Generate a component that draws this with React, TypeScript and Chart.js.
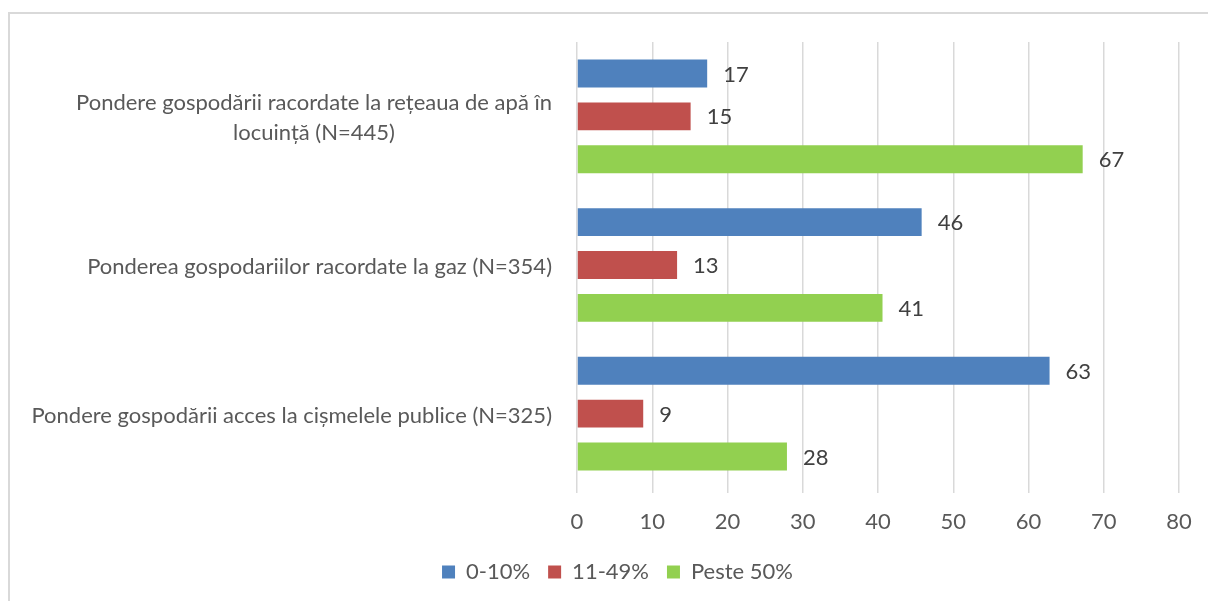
import React, { useEffect, useRef } from "react";
import { Chart, registerables } from "chart.js";

Chart.register(...registerables);

const categoryLines: string[][] = [
  ["Pondere gospodării racordate la rețeaua de apă în", "locuință (N=445)"],
  ["Ponderea gospodariilor racordate la gaz (N=354)"],
  ["Pondere gospodării acces la cișmelele publice (N=325)"],
];
const categories = ["apa", "gaz", "cismele"];
const seriesNames = ["0-10%", "11-49%", "Peste 50%"];
const seriesColors = ["#4f81bd", "#c0504d", "#92d050"];
const low = [17.3, 45.8, 62.8];
const mid = [15.1, 13.3, 8.8];
const high = [67.2, 40.6, 27.9];
const xTicks = [0, 10, 20, 30, 40, 50, 60, 70, 80];

const FONT = "Lato";
const FS = 22;

const labelsPlugin = {
  id: "customLabels",
  afterDatasetsDraw(chart: any) {
    const ctx = chart.ctx;
    ctx.save();
    ctx.font = `${FS}px ${FONT}`;
    ctx.fillStyle = "#404040";
    ctx.textBaseline = "middle";
    ctx.textAlign = "left";
    chart.data.datasets.forEach((ds: any, di: number) => {
      const meta = chart.getDatasetMeta(di);
      meta.data.forEach((bar: any, i: number) => {
        ctx.fillText(String(Math.round(ds.data[i])), bar.x + 16, bar.y + 1);
      });
    });
    const yScale = chart.scales.y;
    const right = chart.chartArea.left - 25;
    ctx.fillStyle = "#595959";
    categoryLines.forEach((lines, i) => {
      const cy = yScale.getPixelForValue(i) + 2;
      const lh = 30;
      const widths = lines.map((l) => ctx.measureText(l).width);
      const maxW = Math.max(...widths);
      const cx = right - maxW / 2;
      ctx.textAlign = "center";
      lines.forEach((l, k) => {
        const y = cy + (k - (lines.length - 1) / 2) * lh;
        ctx.fillText(l, cx, y);
      });
    });
    ctx.restore();
  },
};

export default function App() {
  const ref = useRef<HTMLCanvasElement | null>(null);
  useEffect(() => {
    if (!ref.current) return;
    const chart = new Chart(ref.current, {
      type: "bar",
      data: {
        labels: categories,
        datasets: [low, mid, high].map((d, i) => ({
          label: seriesNames[i],
          data: d,
          backgroundColor: seriesColors[i],
          borderWidth: 0,
          categoryPercentage: 0.865,
          barPercentage: 0.65,
        })),
      },
      options: {
        indexAxis: "y",
        animation: false,
        responsive: true,
        maintainAspectRatio: false,
        layout: { padding: { top: 42, right: 29, left: 56, bottom: 8 } },
        scales: {
          x: {
            min: 0,
            max: 80,
            afterBuildTicks: (scale: any) => {
              scale.ticks = xTicks.map((v) => ({ value: v }));
            },
            ticks: {
              font: { family: FONT, size: FS },
              color: "#595959",
              padding: 16,
            },
            grid: { color: "#d9d9d9", lineWidth: 1.5, tickLength: 5, drawTicks: true },
            border: { display: false },
            afterFit: (scale: any) => {
              scale.height = 55;
            },
          },
          y: {
            ticks: { display: false },
            grid: { display: false },
            border: { display: false },
            afterFit: (scale: any) => {
              scale.width = 521;
            },
          },
        },
        plugins: {
          legend: {
            position: "bottom",
            labels: {
              boxWidth: 13,
              boxHeight: 13,
              font: { family: FONT, size: FS },
              color: "#595959",
              padding: 18,
            },
          },
          tooltip: { enabled: false },
        },
      },
      plugins: [labelsPlugin],
    });
    return () => chart.destroy();
  }, []);
  return (
    <div style={{ position: "absolute", left: 0, top: 0, width: 1208, height: 601 }}>
      <div
        style={{
          position: "absolute",
          left: 8,
          top: 12,
          width: 1200,
          height: 589,
          borderTop: "2px solid #d9d9d9",
          borderLeft: "2px solid #d9d9d9",
          boxSizing: "border-box",
        }}
      />
      <canvas ref={ref} style={{ position: "absolute", left: 0, top: 0 }} />
    </div>
  );
}
